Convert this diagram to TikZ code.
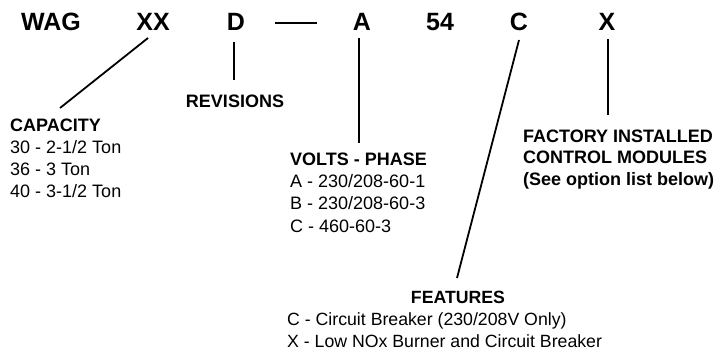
\documentclass[tikz,border=0pt]{standalone}
\usepackage{fontspec}
\setmainfont{Liberation Sans}
\begin{document}
\begin{tikzpicture}[x=1pt,y=-1pt,
  code/.style={anchor=base,inner sep=0pt,font={\fontsize{25}{28}\selectfont\bfseries}},
  lbl/.style={anchor=base west,inner sep=0pt,align=left,font={\fontsize{18}{22}\selectfont}},
  lblc/.style={anchor=base,inner sep=0pt,font={\fontsize{18}{22}\selectfont\bfseries}},
  conn/.style={line width=1.8pt}]
\useasboundingbox (0,0) rectangle (722,351);
% code letters
\node[code] (wag) at (51,30) {WAG};
\node[code] (xx) at (153,30) {XX};
\node[code] (d) at (236,30) {D};
\node[code] (a) at (362,30) {A};
\node[code] (f54) at (440,30) {54};
\node[code] (c) at (519,30) {C};
\node[code] (x) at (607,30) {X};
\coordinate (dashl) at (275,23);
\coordinate (dashr) at (317,23);
\draw[line width=2.6pt] (dashl) -- (dashr);
% labels (base anchor of a multi-line node = baseline of its last line)
\node[lbl] (cap) at (10,197) {\textbf{CAPACITY}\\30 - 2-1/2 Ton\\36 - 3 Ton\\40 - 3-1/2 Ton};
\node[lblc] (rev) at (235,107) {REVISIONS};
\node[lbl,font={\fontsize{18}{22.3}\selectfont}] (volt) at (290,232) {\textbf{VOLTS - PHASE}\\A - 230/208-60-1\\B - 230/208-60-3\\C - 460-60-3};
\node[lbl,font={\fontsize{18}{21.5}\selectfont\bfseries}] (fact) at (523,185) {FACTORY INSTALLED\\CONTROL MODULES\\(See option list below)};
\node[lblc,font={\fontsize{17.7}{22}\selectfont\bfseries}] (feat) at (458,303) {FEATURES};
\node[lbl,font={\fontsize{17.7}{22}\selectfont}] (featlist) at (287,347) {C - Circuit Breaker (230/208V Only)\\X - Low NOx Burner and Circuit Breaker};
% connector end points
\coordinate (xxe) at (148,38);
\coordinate (cape) at (60,108);
\coordinate (de) at (234,42);
\coordinate (reve) at (234,80);
\coordinate (ae) at (359,38);
\coordinate (volte) at (359,143);
\coordinate (ce) at (519,40);
\coordinate (feate) at (457,278);
\coordinate (xe) at (608,39);
\coordinate (facte) at (608,115);
\draw[conn] (xxe) -- (cape);
\draw[conn] (de) -- (reve);
\draw[conn] (ae) -- (volte);
\draw[conn] (ce) -- (feate);
\draw[conn] (xe) -- (facte);
\end{tikzpicture}
\end{document}
